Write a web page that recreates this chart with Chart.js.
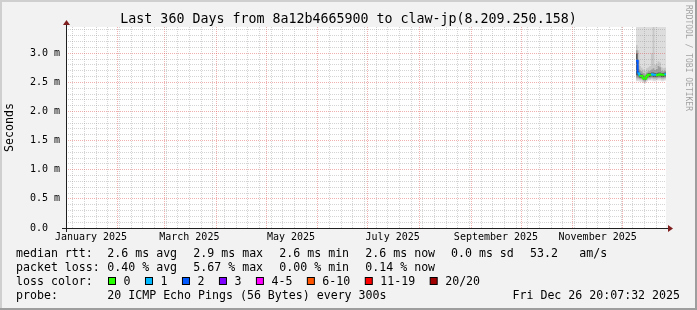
<!DOCTYPE html>
<html>
<head>
<meta charset="utf-8">
<script src="https://cdn.jsdelivr.net/npm/chart.js@4.4.1/dist/chart.umd.min.js"></script>
<style>
  html, body { margin: 0; padding: 0; background: #f2f2f2; }
  canvas { display: block; }
</style>
</head>
<body>
<canvas id="chart" width="697" height="310"></canvas>
<script>
// days since 1 Jan 2025, one step per day
const days = [342, 343, 344, 345, 346, 347, 348, 349, 350, 351, 352, 353, 354, 355, 356, 357, 358, 359];
const endDay = 360;

// median rtt in ms, and average lost pings (of 20)
const median = [2.87, 2.65, 2.61, 2.61, 2.57, 2.56, 2.60, 2.63, 2.63, 2.64, 2.63, 2.63, 2.62, 2.63, 2.64, 2.63, 2.63, 2.64];
const lost = [1.13, 0.30, 0, 0, 0, 0, 0, 0, 0, 0.12, 0.08, 0.10, 0, 0, 0, 0, 0, 0.03];

// smoke: sorted ping spread, outer (light) to inner (dark)
const outerLow = [2.52, 2.52, 2.51, 2.51, 2.49, 2.48, 2.51, 2.53, 2.53, 2.53, 2.52, 2.52, 2.53, 2.53, 2.53, 2.52, 2.52, 2.53];
const outerHigh = [4.2, 4.0, 3.9, 3.8, 4.1, 3.7, 3.9, 4.0, 3.8, 3.9, 4.3, 3.9, 3.8, 4.0, 3.9, 3.7, 3.8, 3.9];
const band2Low = [2.55, 2.55, 2.54, 2.54, 2.51, 2.50, 2.53, 2.55, 2.55, 2.56, 2.55, 2.55, 2.55, 2.56, 2.56, 2.55, 2.55, 2.56];
const band2High = [3.14, 3.05, 2.78, 2.75, 2.72, 2.70, 2.74, 2.76, 2.78, 3.00, 3.90, 2.80, 2.82, 2.86, 2.84, 2.76, 2.74, 2.75];
const band3Low = [2.58, 2.57, 2.56, 2.56, 2.53, 2.52, 2.55, 2.57, 2.57, 2.58, 2.57, 2.57, 2.57, 2.58, 2.58, 2.57, 2.57, 2.58];
const band3High = [3.05, 2.88, 2.70, 2.69, 2.66, 2.64, 2.67, 2.69, 2.70, 2.72, 2.74, 2.71, 2.73, 2.78, 2.76, 2.70, 2.69, 2.70];
const innerLow = [2.62, 2.60, 2.58, 2.58, 2.55, 2.54, 2.57, 2.59, 2.59, 2.60, 2.59, 2.59, 2.59, 2.60, 2.60, 2.59, 2.59, 2.60];
const innerHigh = [3.00, 2.72, 2.65, 2.64, 2.61, 2.60, 2.63, 2.66, 2.66, 2.67, 2.67, 2.66, 2.66, 2.67, 2.67, 2.66, 2.66, 2.67];

const lossLabels = ['0', '1', '2', '3', '4-5', '6-10', '11-19', '20/20'];
const lossColors = ['#26ff00', '#00b8ff', '#0059ff', '#7e00ff', '#ff00ff', '#ff5500', '#ff0000', '#a10000'];
const lossLimits = [0, 1, 2, 3, 5, 10, 19, 20];

// axis ticks
const monthStarts = [0, 31, 59, 90, 120, 151, 181, 212, 243, 273, 304, 334];
const labelDays = [15, 74, 135, 196, 258, 319];
const labelNames = ['January 2025', 'March 2025', 'May 2025', 'July 2025', 'September 2025', 'November 2025'];
const firstSunday = 4;
const yLabelValues = [0, 0.5, 1.0, 1.5, 2.0, 2.5, 3.0];
const yLabels = ['0.0  ', '0.5 m', '1.0 m', '1.5 m', '2.0 m', '2.5 m', '3.0 m'];

const title = 'Last 360 Days from 8a12b4665900 to claw-jp(8.209.250.158)';
const rttStats = ['2.6 ms avg', '2.9 ms max', '2.6 ms min', '2.6 ms now', '0.0 ms sd', '53.2', 'am/s'];
const lossStats = ['0.40 % avg', '5.67 % max', '0.00 % min', '0.14 % now'];

const mono = 'DejaVu Sans Mono';
const minorGrid = 'rgba(143,143,143,0.38)';
const majorGrid = 'rgba(222,79,79,0.45)';

const weekDays = [];
for (let d = firstSunday; d <= endDay; d += 7) weekDays.push(d);
const xTickValues = [...new Set([...weekDays, ...monthStarts, ...labelDays])].sort((a, b) => a - b);
const yTickValues = [];
for (let i = 0; i <= 34; i++) yTickValues.push(i / 10);

function lossBucket(n) {
  return lossLimits.findIndex((limit) => n <= limit);
}

function isMajorY(v) {
  return yLabelValues.some((m) => Math.abs(m - v) < 1e-6);
}

function points(values) {
  const pts = days.map((d, i) => ({ x: d, y: values[i] }));
  pts.push({ x: endDay, y: values[values.length - 1] });
  return pts;
}

function band(low, high, color, order) {
  const common = { borderWidth: 0, borderColor: 'rgba(0,0,0,0)', pointRadius: 0, stepped: true, order };
  return [
    { ...common, data: points(low), fill: false },
    { ...common, data: points(high), fill: '-1', backgroundColor: color },
  ];
}

const datasets = [
  ...band(outerLow, outerHigh, '#dddddd', 5),
  ...band(band2Low, band2High, '#c6c6c6', 4),
  ...band(band3Low, band3High, '#9e9e9e', 3),
  ...band(innerLow, innerHigh, '#5a5a5a', 2),
  {
    data: points(median),
    borderWidth: 2,
    pointRadius: 0,
    stepped: true,
    fill: false,
    order: 0,
    borderColor: lossColors[0],
    segment: {
      borderColor: (ctx) => lossColors[lossBucket(lost[ctx.p0DataIndex])],
    },
  },
];

const rrdFrame = {
  id: 'rrdFrame',
  beforeDraw(chart) {
    const { ctx, chartArea: a, width, height } = chart;
    ctx.save();
    ctx.fillStyle = '#f2f2f2';
    ctx.fillRect(0, 0, width, height);
    ctx.fillStyle = '#cfcfcf';
    ctx.fillRect(0, 0, width, 2);
    ctx.fillRect(0, 0, 2, height);
    ctx.fillStyle = '#9e9e9e';
    ctx.fillRect(0, height - 2, width, 2);
    ctx.fillRect(width - 2, 0, 2, height);
    ctx.fillStyle = '#ffffff';
    ctx.fillRect(a.left, a.top, a.right - a.left, a.bottom - a.top);
    ctx.restore();
  },
  afterDraw(chart) {
    const { ctx, chartArea: a, width } = chart;
    const x0 = a.left + 0.5;
    const y0 = a.bottom + 0.5;
    ctx.save();

    // axes with arrows
    ctx.strokeStyle = '#1f1f1f';
    ctx.lineWidth = 1;
    ctx.beginPath();
    ctx.moveTo(a.left - 4, y0);
    ctx.lineTo(a.right + 4, y0);
    ctx.moveTo(x0, a.bottom + 4);
    ctx.lineTo(x0, a.top - 4);
    ctx.stroke();
    ctx.fillStyle = '#801f1f';
    ctx.beginPath();
    ctx.moveTo(a.right + 2, y0 - 3.5);
    ctx.lineTo(a.right + 7, y0);
    ctx.lineTo(a.right + 2, y0 + 3.5);
    ctx.closePath();
    ctx.fill();
    ctx.beginPath();
    ctx.moveTo(x0 - 3.5, a.top - 2);
    ctx.lineTo(x0, a.top - 7);
    ctx.lineTo(x0 + 3.5, a.top - 2);
    ctx.closePath();
    ctx.fill();

    // title, centred on the whole image
    ctx.fillStyle = '#000';
    ctx.textBaseline = 'middle';
    ctx.textAlign = 'center';
    ctx.font = `13.3px "${mono}"`;
    ctx.fillText(title, width / 2, 19.3);

    // legend
    ctx.font = `11.6px "${mono}"`;
    ctx.textAlign = 'left';
    const statX = [107.3, 193.3, 279.3, 365.3, 451, 530, 579.3];
    ctx.fillText('median rtt:', 16, 254);
    rttStats.forEach((s, i) => ctx.fillText(s, statX[i], 254));
    ctx.fillText('packet loss:', 16, 268.3);
    lossStats.forEach((s, i) => ctx.fillText(s, statX[i], 268.3));
    ctx.fillText('loss color:', 16, 281.7);
    let bx = 108.5;
    lossLabels.forEach((label, i) => {
      ctx.fillStyle = lossColors[i];
      ctx.fillRect(bx, 277.5, 7, 7);
      ctx.strokeStyle = '#000';
      ctx.strokeRect(bx, 277.5, 7, 7);
      ctx.fillStyle = '#000';
      ctx.fillText(label, bx + 15, 281.7);
      bx += 15 + ctx.measureText(label).width + 15;
    });
    ctx.fillText('probe:', 16, 296);
    ctx.fillText('20 ICMP Echo Pings (56 Bytes) every 300s', 107.3, 296);
    ctx.textAlign = 'right';
    ctx.fillText('Fri Dec 26 20:07:32 2025', 680, 296);

    // watermark
    ctx.translate(688, 58);
    ctx.rotate(Math.PI / 2);
    ctx.textAlign = 'center';
    ctx.font = `8px "${mono}"`;
    ctx.fillStyle = 'rgba(0,0,0,0.35)';
    ctx.fillText('RRDTOOL / TOBI OETIKER', 0, 0);
    ctx.restore();
  },
};

new Chart(document.getElementById('chart'), {
  type: 'line',
  data: { datasets },
  options: {
    responsive: false,
    animation: false,
    devicePixelRatio: 1,
    layout: { padding: { left: 0, right: 31, top: 27, bottom: 0 } },
    plugins: {
      legend: { display: false },
      tooltip: { enabled: false },
      title: { display: false },
    },
    scales: {
      x: {
        type: 'linear',
        min: 0,
        max: endDay,
        offset: false,
        afterBuildTicks: (scale) => {
          scale.ticks = xTickValues.map((value) => ({ value }));
        },
        afterFit: (scale) => {
          scale.height = 82;
        },
        ticks: {
          autoSkip: false,
          maxRotation: 0,
          padding: 3,
          color: '#000',
          font: { family: mono, size: 10 },
          callback: (value) => {
            const i = labelDays.indexOf(value);
            return i >= 0 ? labelNames[i] : '';
          },
        },
        grid: {
          z: 1,
          drawTicks: false,
          lineWidth: 1,
          color: (ctx) => {
            const v = ctx.tick.value;
            if (monthStarts.includes(v)) return majorGrid;
            if (weekDays.includes(v)) return minorGrid;
            return 'rgba(0,0,0,0)';
          },
        },
        border: { display: false, dash: [1, 1] },
      },
      y: {
        type: 'linear',
        min: 0,
        max: 3.45,
        afterBuildTicks: (scale) => {
          scale.ticks = yTickValues.map((value) => ({ value }));
        },
        afterFit: (scale) => {
          scale.width = 66;
        },
        ticks: {
          autoSkip: false,
          padding: 6,
          color: '#000',
          font: { family: mono, size: 10 },
          callback: (value) => {
            const i = yLabelValues.findIndex((v) => Math.abs(v - value) < 1e-6);
            return i >= 0 ? yLabels[i] : '';
          },
        },
        title: {
          display: true,
          text: 'Seconds',
          color: '#000',
          font: { family: mono, size: 11.6 },
          padding: { top: 3, bottom: 0 },
        },
        grid: {
          z: 1,
          drawTicks: false,
          lineWidth: 1,
          color: (ctx) => (isMajorY(ctx.tick.value) ? majorGrid : minorGrid),
        },
        border: { display: false, dash: [1, 1] },
      },
    },
  },
  plugins: [rrdFrame],
});
</script>
</body>
</html>
